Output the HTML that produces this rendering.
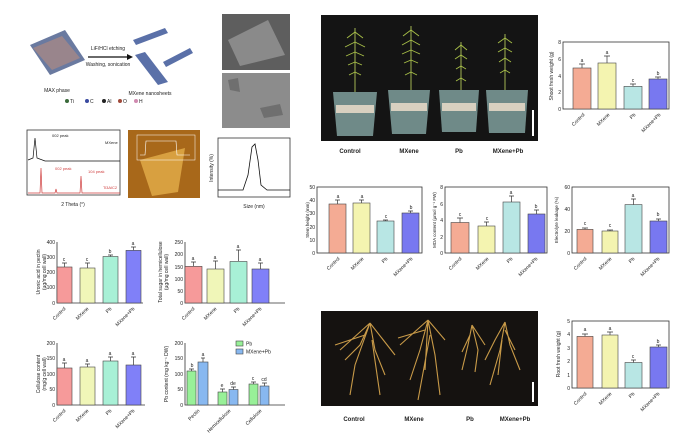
<!DOCTYPE html>
<html><head><meta charset="utf-8"><style>
html,body{margin:0;padding:0;background:#fff}
svg{display:block;font-family:"Liberation Sans",sans-serif}
.t{font-size:5px;fill:#222}
.l{font-size:6px;font-weight:bold;fill:#222}
.ax{stroke:#333;stroke-width:0.8;fill:none}
.b{stroke:#444;stroke-width:0.6}
.e{stroke:#333;stroke-width:0.7;fill:none}
</style></head><body>
<svg width="693" height="440" viewBox="0 0 693 440" xmlns="http://www.w3.org/2000/svg">
<rect width="693" height="440" fill="#fff"/>
<g>
<polygon points="30,45 65,30 85,60 50,75" fill="#6a7aa0"/>
<polygon points="33,48 62,36 80,58 52,70" fill="#c89078" opacity="0.5"/>
<line x1="88" y1="57" x2="127" y2="57" stroke="#111" stroke-width="1.3"/>
<polygon points="127,54 133,57 127,60" fill="#111"/>
<text x="108" y="50" class="t" text-anchor="middle">LiF/HCl etching</text>
<text x="108" y="66" class="t" text-anchor="middle">Washing, sonication</text>
<polygon points="133,40 165,28 168,33 136,45" fill="#5a70a8"/>
<polygon points="135,55 145,52 168,82 158,85" fill="#5a70a8"/>
<polygon points="163,62 190,48 193,53 166,67" fill="#5a70a8"/>
<text x="57" y="92" class="t" text-anchor="middle">MAX phase</text>
<text x="150" y="95" class="t" text-anchor="middle">MXene nanosheets</text>
<circle cx="67" cy="101" r="2" fill="#3a6a3a"/><text x="70" y="103" class="t">Ti</text>
<circle cx="87" cy="101" r="2" fill="#3a4aa0"/><text x="90" y="103" class="t">C</text>
<circle cx="104" cy="101" r="2" fill="#222"/><text x="107" y="103" class="t">Al</text>
<circle cx="120" cy="101" r="2" fill="#a04a3a"/><text x="123" y="103" class="t">O</text>
<circle cx="136" cy="101" r="2" fill="#d08ab0"/><text x="139" y="103" class="t">H</text>
</g>
<rect x="222" y="14" width="68" height="56" fill="#5e5e5e"/>
<polygon points="228,40 268,20 285,55 240,66" fill="#8a8a8a"/>
<rect x="222" y="73" width="68" height="55" fill="#8c8c8c"/>
<polygon points="228,80 238,78 240,92 230,90" fill="#6f6f6f"/>
<polygon points="260,108 280,104 283,115 264,118" fill="#6f6f6f"/>
<g>
<rect x="27" y="130" width="93" height="65" class="ax"/>
<polyline points="28,160 33,158 35,138 37,158 45,161 120,161" fill="none" stroke="#111" stroke-width="0.7"/>
<polyline points="28,193 40,193 41,168 42,193 55,193 56,189 57,193 80,193 81,176 82,193 120,193" fill="none" stroke="#d04040" stroke-width="0.7"/>
<text x="52" y="137" class="t" style="font-size:4px">002 peak</text>
<text x="105" y="144" class="t" style="font-size:4px">MXene</text>
<text x="55" y="170" class="t" style="font-size:4px;fill:#d04040">002 peak</text>
<text x="88" y="173" class="t" style="font-size:4px;fill:#d04040">104 peak</text>
<text x="103" y="189" class="t" style="font-size:4px;fill:#d04040">Ti3AlC2</text>
<text x="73" y="206" class="t" text-anchor="middle">2 Theta (°)</text>
</g>
<rect x="128" y="130" width="72" height="68" fill="#a8681a"/>
<polygon points="140,160 185,148 178,192 152,196" fill="#d8a040"/>
<rect x="137" y="135" width="58" height="25" fill="none" stroke="#fff" stroke-width="0.5"/>
<polyline points="140,155 145,155 146,141 176,141 177,155 190,155" fill="none" stroke="#fff" stroke-width="0.6"/>
<rect x="218" y="138" width="72" height="59" class="ax"/>
<polyline points="218,190 243,190 248,175 252,147 255,144 258,160 261,185 267,190 290,190" fill="none" stroke="#111" stroke-width="0.8"/>
<text x="254" y="208" class="t" text-anchor="middle">Size (nm)</text>
<text x="213" y="168" class="t" text-anchor="middle" transform="rotate(-90 213 168)">Intensity (%)</text>

<g>
<polyline points="57,242 57,303 143,303" class="ax"/>
<text x="55" y="244" class="t" text-anchor="end">400</text><text x="55" y="259" class="t" text-anchor="end">300</text><text x="55" y="274" class="t" text-anchor="end">200</text><text x="55" y="289" class="t" text-anchor="end">100</text><text x="55" y="305" class="t" text-anchor="end">0</text>
<path class="e" d="M64.5,267V263M62,263h5M87.5,268V263M85,263h5M110.5,256.5V255M108,255h5M133.5,250.4V247M131,247h5"/>
<rect x="57" y="267" width="15" height="36" fill="#f69a9a" class="b"/>
<rect x="80" y="268" width="15" height="35" fill="#f0f6b8" class="b"/>
<rect x="103" y="256.5" width="15" height="46.5" fill="#a8f0d6" class="b"/>
<rect x="126" y="250.4" width="15" height="52.6" fill="#8080f8" class="b"/>
<text x="40" y="272" class="t" text-anchor="middle" transform="rotate(-90 40 272)">Uronic acid in pectin</text>
<text x="46" y="272" class="t" text-anchor="middle" transform="rotate(-90 46 272)">(μg/mg cell wall)</text>
<text x="64" y="261" class="t" text-anchor="middle">c</text><text x="87" y="261" class="t" text-anchor="middle">c</text><text x="110" y="253" class="t" text-anchor="middle">b</text><text x="133" y="245" class="t" text-anchor="middle">a</text>
<text x="66" y="309" class="t" text-anchor="end" transform="rotate(-45 66 309)">Control</text>
<text x="89" y="309" class="t" text-anchor="end" transform="rotate(-45 89 309)">MXene</text>
<text x="112" y="309" class="t" text-anchor="end" transform="rotate(-45 112 309)">Pb</text>
<text x="135" y="309" class="t" text-anchor="end" transform="rotate(-45 135 309)">MXene+Pb</text>
</g>
<g>
<polyline points="185,242 185,303 285,303" class="ax"/>
<text x="183" y="244" class="t" text-anchor="end">250</text><text x="183" y="256" class="t" text-anchor="end">200</text><text x="183" y="269" class="t" text-anchor="end">150</text><text x="183" y="281" class="t" text-anchor="end">100</text><text x="183" y="293" class="t" text-anchor="end">50</text><text x="183" y="305" class="t" text-anchor="end">0</text>
<path class="e" d="M193.5,266V262M191,262h5M215.5,269V261M213,261h5M238.5,261V250M236,250h5M260.5,269V263M258,263h5"/>
<rect x="185" y="266.4" width="17" height="36.6" fill="#f69a9a" class="b"/>
<rect x="207" y="269" width="17" height="34" fill="#f0f6b8" class="b"/>
<rect x="230" y="261.5" width="17" height="41.5" fill="#a8f0d6" class="b"/>
<rect x="252" y="269" width="17" height="34" fill="#8080f8" class="b"/>
<text x="162" y="272" class="t" text-anchor="middle" transform="rotate(-90 162 272)">Total sugar in hemicellulose</text>
<text x="168" y="272" class="t" text-anchor="middle" transform="rotate(-90 168 272)">(μg/mg cell wall)</text>
<text x="193" y="260" class="t" text-anchor="middle">a</text><text x="215" y="259" class="t" text-anchor="middle">a</text><text x="238" y="248" class="t" text-anchor="middle">a</text><text x="260" y="261" class="t" text-anchor="middle">a</text>
<text x="195" y="309" class="t" text-anchor="end" transform="rotate(-45 195 309)">Control</text>
<text x="217" y="309" class="t" text-anchor="end" transform="rotate(-45 217 309)">MXene</text>
<text x="240" y="309" class="t" text-anchor="end" transform="rotate(-45 240 309)">Pb</text>
<text x="262" y="309" class="t" text-anchor="end" transform="rotate(-45 262 309)">MXene+Pb</text>
</g>
<g>
<polyline points="57,343 57,405 145,405" class="ax"/>
<text x="55" y="345" class="t" text-anchor="end">200</text><text x="55" y="360" class="t" text-anchor="end">150</text><text x="55" y="376" class="t" text-anchor="end">100</text><text x="55" y="391" class="t" text-anchor="end">50</text><text x="55" y="407" class="t" text-anchor="end">0</text>
<path class="e" d="M64.5,368V363M62,363h5M87.5,367V364M85,364h5M110.5,361V357M108,357h5M133.5,365V357M131,357h5"/>
<rect x="57" y="368" width="15" height="37" fill="#f69a9a" class="b"/>
<rect x="80" y="367" width="15" height="38" fill="#f0f6b8" class="b"/>
<rect x="103" y="361" width="15" height="44" fill="#a8f0d6" class="b"/>
<rect x="126" y="365" width="15" height="40" fill="#8080f8" class="b"/>
<text x="40" y="374" class="t" text-anchor="middle" transform="rotate(-90 40 374)">Cellulose content</text>
<text x="46" y="374" class="t" text-anchor="middle" transform="rotate(-90 46 374)">(mg/g cell wall)</text>
<text x="64" y="361" class="t" text-anchor="middle">a</text><text x="87" y="362" class="t" text-anchor="middle">a</text><text x="110" y="355" class="t" text-anchor="middle">a</text><text x="133" y="355" class="t" text-anchor="middle">a</text>
<text x="66" y="411" class="t" text-anchor="end" transform="rotate(-45 66 411)">Control</text>
<text x="89" y="411" class="t" text-anchor="end" transform="rotate(-45 89 411)">MXene</text>
<text x="112" y="411" class="t" text-anchor="end" transform="rotate(-45 112 411)">Pb</text>
<text x="135" y="411" class="t" text-anchor="end" transform="rotate(-45 135 411)">MXene+Pb</text>
</g>
<g>
<polyline points="185,343 185,405 285,405" class="ax"/>
<text x="183" y="345" class="t" text-anchor="end">200</text><text x="183" y="360" class="t" text-anchor="end">150</text><text x="183" y="376" class="t" text-anchor="end">100</text><text x="183" y="391" class="t" text-anchor="end">50</text><text x="183" y="407" class="t" text-anchor="end">0</text>
<path class="e" d="M191.5,371V369M189,369h5M203,362V358M201,358h4M222.5,392V389M220,389h5M233.5,389.5V387M231,387h5M253.5,384V382M251,382h5M264.5,386V383M262,383h5"/>
<rect x="187" y="371" width="9" height="34" fill="#98f098" class="b"/>
<rect x="198" y="362" width="10" height="43" fill="#88b8f0" class="b"/>
<rect x="218" y="392" width="9" height="13" fill="#98f098" class="b"/>
<rect x="229" y="389.5" width="9" height="15.5" fill="#88b8f0" class="b"/>
<rect x="249" y="384" width="9" height="21" fill="#98f098" class="b"/>
<rect x="260" y="386" width="9" height="19" fill="#88b8f0" class="b"/>
<rect x="236" y="341" width="7" height="5" fill="#98f098" class="b"/><text x="246" y="345.5" class="t">Pb</text>
<rect x="236" y="349" width="7" height="5" fill="#88b8f0" class="b"/><text x="246" y="353.5" class="t">MXene+Pb</text>
<text x="168" y="374" class="t" text-anchor="middle" transform="rotate(-90 168 374)">Pb content (mg kg⁻¹ DW)</text>
<text x="192" y="367" class="t" text-anchor="middle">b</text><text x="203" y="356" class="t" text-anchor="middle">a</text><text x="222" y="387" class="t" text-anchor="middle">e</text><text x="233" y="385" class="t" text-anchor="middle">de</text><text x="253" y="380" class="t" text-anchor="middle">c</text><text x="264" y="381" class="t" text-anchor="middle">cd</text>
<text x="200" y="411" class="t" text-anchor="end" transform="rotate(-45 200 411)">Pectin</text>
<text x="231" y="411" class="t" text-anchor="end" transform="rotate(-45 231 411)">Hemicellulose</text>
<text x="262" y="411" class="t" text-anchor="end" transform="rotate(-45 262 411)">Cellulose</text>
</g>

<rect x="321" y="15" width="217" height="126" fill="#141414"/>
<g stroke="#8a9a48" stroke-width="1.2">
<line x1="355" y1="28" x2="355" y2="97"/><line x1="411" y1="26" x2="411" y2="97"/><line x1="461" y1="42" x2="461" y2="97"/><line x1="505" y1="34" x2="505" y2="97"/></g>
<g stroke="#a8c048" stroke-width="0.9">
<path d="M355,32l-8,6M355,32l8,6M355,42l-10,5M355,42l10,5M355,52l-9,4M355,52l9,4M355,62l-7,3M355,62l7,3M355,72l-6,3M355,72l6,3"/>
<path d="M411,30l-8,6M411,30l8,6M411,40l-9,5M411,40l9,5M411,50l-9,4M411,50l9,4M411,60l-7,3M411,60l7,3M411,72l-6,3M411,72l6,3"/>
<path d="M461,45l-6,5M461,45l6,5M461,55l-6,4M461,55l6,4M461,66l-5,3M461,66l5,3M461,78l-5,3M461,78l5,3"/>
<path d="M505,38l-7,5M505,38l7,5M505,48l-7,4M505,48l7,4M505,58l-6,4M505,58l6,4M505,70l-5,3M505,70l5,3"/></g>
<g fill="#6f8a88">
<polygon points="333,92 377,92 373,136 337,136"/><polygon points="388,90 430,90 426,134 392,134"/><polygon points="439,90 479,90 476,132 442,132"/><polygon points="486,90 528,90 525,133 489,133"/></g>
<g fill="#d8d0c0"><rect x="336" y="105" width="38" height="8"/><rect x="391" y="103" width="36" height="8"/><rect x="442" y="103" width="34" height="8"/><rect x="489" y="103" width="36" height="8"/></g>
<rect x="532" y="110" width="2" height="26" fill="#fff"/>
<text x="350" y="153" class="l" text-anchor="middle">Control</text>
<text x="409" y="153" class="l" text-anchor="middle">MXene</text>
<text x="459" y="153" class="l" text-anchor="middle">Pb</text>
<text x="508" y="153" class="l" text-anchor="middle">MXene+Pb</text>

<g>
<rect x="563" y="42" width="106" height="67" class="ax"/>
<text x="561" y="44" class="t" text-anchor="end">8</text><text x="561" y="61" class="t" text-anchor="end">6</text><text x="561" y="78" class="t" text-anchor="end">4</text><text x="561" y="94" class="t" text-anchor="end">2</text><text x="561" y="111" class="t" text-anchor="end">0</text>
<path class="e" d="M582,68V64M579,64h6M607,63V56M604,56h6M633,86.4V84M630,84h6M658,79V77M655,77h6"/>
<rect x="573" y="68" width="18" height="41" fill="#f4ab94" class="b"/>
<rect x="598" y="63" width="18" height="46" fill="#f4f4b0" class="b"/>
<rect x="624" y="86.4" width="18" height="22.6" fill="#b8e6e4" class="b"/>
<rect x="649" y="79" width="18" height="30" fill="#7878f0" class="b"/>
<text x="582" y="62" class="t" text-anchor="middle">a</text><text x="607" y="54" class="t" text-anchor="middle">a</text><text x="633" y="82" class="t" text-anchor="middle">c</text><text x="658" y="75" class="t" text-anchor="middle">b</text>
<text x="553" y="76" class="t" text-anchor="middle" transform="rotate(-90 553 76)">Shoot fresh weight (g)</text>
<text x="585" y="115" class="t" text-anchor="end" transform="rotate(-45 585 115)">Control</text>
<text x="610" y="115" class="t" text-anchor="end" transform="rotate(-45 610 115)">MXene</text>
<text x="636" y="115" class="t" text-anchor="end" transform="rotate(-45 636 115)">Pb</text>
<text x="661" y="115" class="t" text-anchor="end" transform="rotate(-45 661 115)">MXene+Pb</text>
</g>
<g>
<rect x="317" y="187" width="105" height="66" class="ax"/>
<text x="315" y="189" class="t" text-anchor="end">50</text><text x="315" y="202" class="t" text-anchor="end">40</text><text x="315" y="215" class="t" text-anchor="end">30</text><text x="315" y="229" class="t" text-anchor="end">20</text><text x="315" y="242" class="t" text-anchor="end">10</text><text x="315" y="255" class="t" text-anchor="end">0</text>
<path class="e" d="M337.5,204V200M335,200h5M361.5,203V200M359,200h5M385.5,221V220M383,220h5M410.5,213V211M408,211h5"/>
<rect x="329" y="204" width="17" height="49" fill="#f4ab94" class="b"/>
<rect x="353" y="203" width="17" height="50" fill="#f4f4b0" class="b"/>
<rect x="377" y="221" width="17" height="32" fill="#b8e6e4" class="b"/>
<rect x="402" y="213" width="17" height="40" fill="#7878f0" class="b"/>
<text x="338" y="198" class="t" text-anchor="middle">a</text><text x="362" y="198" class="t" text-anchor="middle">a</text><text x="386" y="218" class="t" text-anchor="middle">c</text><text x="411" y="209" class="t" text-anchor="middle">b</text>
<text x="309" y="220" class="t" text-anchor="middle" transform="rotate(-90 309 220)" style="font-size:4.5px">Stem height (mm)</text>
<text x="340" y="259" class="t" text-anchor="end" transform="rotate(-45 340 259)">Control</text>
<text x="364" y="259" class="t" text-anchor="end" transform="rotate(-45 364 259)">MXene</text>
<text x="388" y="259" class="t" text-anchor="end" transform="rotate(-45 388 259)">Pb</text>
<text x="413" y="259" class="t" text-anchor="end" transform="rotate(-45 413 259)">MXene+Pb</text>
</g>
<g>
<rect x="445" y="187" width="102" height="66" class="ax"/>
<text x="443" y="189" class="t" text-anchor="end">8</text><text x="443" y="206" class="t" text-anchor="end">6</text><text x="443" y="222" class="t" text-anchor="end">4</text><text x="443" y="239" class="t" text-anchor="end">2</text><text x="443" y="255" class="t" text-anchor="end">0</text>
<path class="e" d="M460,222.5V218M457,218h6M486.5,226V222M484,222h5M511.5,202V196M509,196h5M536.5,214V210M534,210h5"/>
<rect x="451" y="222.5" width="18" height="30.5" fill="#f4ab94" class="b"/>
<rect x="478" y="226" width="17" height="27" fill="#f4f4b0" class="b"/>
<rect x="503" y="202" width="17" height="51" fill="#b8e6e4" class="b"/>
<rect x="528" y="214" width="17" height="39" fill="#7878f0" class="b"/>
<text x="460" y="216" class="t" text-anchor="middle">c</text><text x="487" y="220" class="t" text-anchor="middle">c</text><text x="511" y="194" class="t" text-anchor="middle">a</text><text x="536" y="208" class="t" text-anchor="middle">b</text>
<text x="436" y="220" class="t" text-anchor="middle" transform="rotate(-90 436 220)" style="font-size:4.5px">MDA content (μmol g⁻¹ FW)</text>
<text x="462" y="259" class="t" text-anchor="end" transform="rotate(-45 462 259)">Control</text>
<text x="489" y="259" class="t" text-anchor="end" transform="rotate(-45 489 259)">MXene</text>
<text x="513" y="259" class="t" text-anchor="end" transform="rotate(-45 513 259)">Pb</text>
<text x="538" y="259" class="t" text-anchor="end" transform="rotate(-45 538 259)">MXene+Pb</text>
</g>
<g>
<rect x="572" y="187" width="97" height="66" class="ax"/>
<text x="570" y="189" class="t" text-anchor="end">60</text><text x="570" y="211" class="t" text-anchor="end">40</text><text x="570" y="233" class="t" text-anchor="end">20</text><text x="570" y="255" class="t" text-anchor="end">0</text>
<path class="e" d="M585,229.4V228M582,228h6M610,231V230M607,230h6M633.5,204.6V199M631,199h5M658.5,221V219M656,219h5"/>
<rect x="577" y="229.4" width="16" height="23.6" fill="#f4ab94" class="b"/>
<rect x="602" y="231" width="16" height="22" fill="#f4f4b0" class="b"/>
<rect x="625" y="204.6" width="17" height="48.4" fill="#b8e6e4" class="b"/>
<rect x="650" y="221" width="17" height="32" fill="#7878f0" class="b"/>
<text x="585" y="225" class="t" text-anchor="middle">c</text><text x="610" y="227" class="t" text-anchor="middle">c</text><text x="633" y="197" class="t" text-anchor="middle">a</text><text x="658" y="216" class="t" text-anchor="middle">b</text>
<text x="558" y="220" class="t" text-anchor="middle" transform="rotate(-90 558 220)" style="font-size:4.5px">Electrolyte leakage (%)</text>
<text x="587" y="259" class="t" text-anchor="end" transform="rotate(-45 587 259)">Control</text>
<text x="612" y="259" class="t" text-anchor="end" transform="rotate(-45 612 259)">MXene</text>
<text x="635" y="259" class="t" text-anchor="end" transform="rotate(-45 635 259)">Pb</text>
<text x="660" y="259" class="t" text-anchor="end" transform="rotate(-45 660 259)">MXene+Pb</text>
</g>
<rect x="321" y="311" width="217" height="95" fill="#151210"/>
<g stroke="#c89a48" stroke-width="1.1" fill="none">
<path d="M370,323 L360,345 L345,360 M370,323 L375,350 L385,375 M370,323 L355,365 L350,395 M370,323 L395,355 M370,323 L340,350 M365,335 L335,345 M372,340 L380,395"/>
<path d="M428,320 L420,350 L410,380 M428,320 L435,355 L440,395 M428,320 L400,345 M428,320 L445,340 M428,320 L425,370 M425,330 L398,338 M430,335 L418,400"/>
<path d="M472,325 L468,345 L462,370 M472,325 L478,350 L475,372 M472,325 L485,345 M470,335 L462,352"/>
<path d="M505,322 L500,350 L490,385 M505,322 L510,345 L520,370 M505,322 L495,340 L485,360 M505,330 L515,350 M502,340 L498,375"/>
</g>
<rect x="532" y="382" width="2" height="20" fill="#fff"/>
<text x="354" y="421" class="l" text-anchor="middle">Control</text>
<text x="414" y="421" class="l" text-anchor="middle">MXene</text>
<text x="470" y="421" class="l" text-anchor="middle">Pb</text>
<text x="515" y="421" class="l" text-anchor="middle">MXene+Pb</text>
<g>
<rect x="572" y="321" width="97" height="67" class="ax"/>
<text x="570" y="323" class="t" text-anchor="end">5</text><text x="570" y="336" class="t" text-anchor="end">4</text><text x="570" y="350" class="t" text-anchor="end">3</text><text x="570" y="363" class="t" text-anchor="end">2</text><text x="570" y="377" class="t" text-anchor="end">1</text><text x="570" y="390" class="t" text-anchor="end">0</text>
<path class="e" d="M585,336.4V334M582,334h6M610,335V332M607,332h6M633.5,362.5V360M631,360h5M658.5,347V345M656,345h5"/>
<rect x="577" y="336.4" width="16" height="51.6" fill="#f4ab94" class="b"/>
<rect x="602" y="335" width="16" height="53" fill="#f4f4b0" class="b"/>
<rect x="625" y="362.5" width="17" height="25.5" fill="#b8e6e4" class="b"/>
<rect x="650" y="347" width="17" height="41" fill="#7878f0" class="b"/>
<text x="585" y="331" class="t" text-anchor="middle">a</text><text x="610" y="330" class="t" text-anchor="middle">a</text><text x="633" y="358" class="t" text-anchor="middle">c</text><text x="658" y="343" class="t" text-anchor="middle">b</text>
<text x="560" y="354" class="t" text-anchor="middle" transform="rotate(-90 560 354)">Root fresh weight (g)</text>
<text x="587" y="394" class="t" text-anchor="end" transform="rotate(-45 587 394)">Control</text>
<text x="612" y="394" class="t" text-anchor="end" transform="rotate(-45 612 394)">MXene</text>
<text x="635" y="394" class="t" text-anchor="end" transform="rotate(-45 635 394)">Pb</text>
<text x="660" y="394" class="t" text-anchor="end" transform="rotate(-45 660 394)">MXene+Pb</text>
</g>
</svg>
</body></html>
